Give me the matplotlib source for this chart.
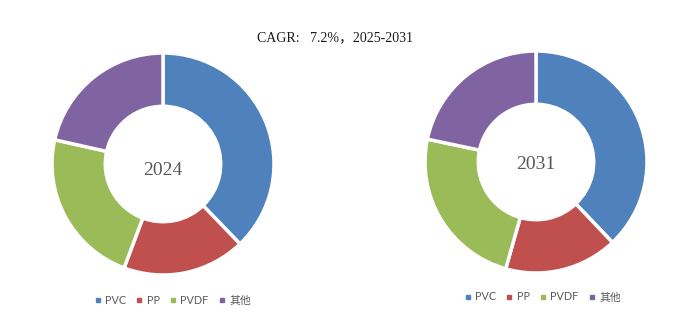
import matplotlib
matplotlib.use("Agg")
import matplotlib.pyplot as plt
from matplotlib.lines import Line2D

categories = ["PVC", "PP", "PVDF", "其他"]
values_2024 = [37.8, 17.9, 22.8, 21.5]
values_2031 = [37.9, 16.5, 23.9, 21.7]
years = ["2024", "2031"]
title = "CAGR:   7.2%，2025-2031"
colors = ["#4F81BD", "#C0504D", "#9BBB59", "#8064A2"]

W, H = 697, 322
fig = plt.figure(figsize=(W / 100, H / 100), dpi=100)
fig.patch.set_facecolor("white")

R = 111
centers = [(163, 164), (536, 162)]
label_dy = [-0.06, -0.02]
legend_pos = [(90, 300), (460, 297)]

for vals, yr, (cx, cy), (lx, ly), dy in zip([values_2024, values_2031], years, centers, legend_pos, label_dy):
    ax = fig.add_axes([(cx - R) / W, (H - cy - R) / H, 2 * R / W, 2 * R / H])
    ax.pie(vals, colors=colors, startangle=90, counterclock=False,
           wedgeprops=dict(width=0.48, edgecolor="white", linewidth=2.5))
    ax.set_xlim(-1, 1)
    ax.set_ylim(-1, 1)
    ax.set_aspect("equal")
    ax.axis("off")
    ax.text(0, dy, yr, ha="center", va="center", fontsize=14,
            family=["Liberation Serif", "DejaVu Serif"], color="#595959")
    handles = [Line2D([], [], marker="s", linestyle="none", markersize=3.5,
                      markerfacecolor=c, markeredgecolor=c) for c in colors]
    fig.legend(handles, categories, loc="center left",
               bbox_to_anchor=(lx / W, 1 - ly / H), ncol=4, frameon=False,
               handlelength=0.6, handletextpad=0.4, columnspacing=0.9,
               prop=dict(family=["Lato", "Noto Sans CJK SC"], size=7.8),
               labelcolor="#595959", borderaxespad=0)

fig.text(335 / W, 1 - 38 / H, title, ha="center", va="center", fontsize=10,
         family=["Liberation Serif", "Noto Sans CJK SC"], color="#1a1a1a")

fig.savefig("out.png", dpi=100, facecolor="white")
